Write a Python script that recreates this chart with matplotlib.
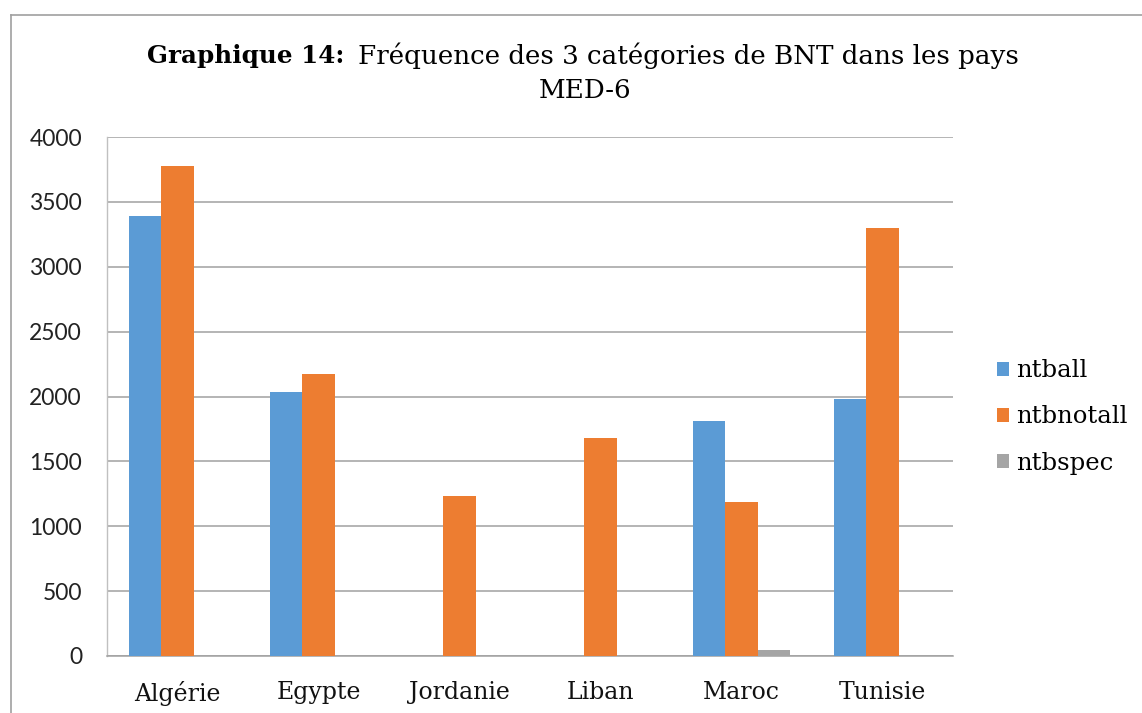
import matplotlib
matplotlib.use("Agg")
import matplotlib.pyplot as plt
import numpy as np

countries = ["Algérie", "Egypte", "Jordanie", "Liban", "Maroc", "Tunisie"]
series_names = ["ntball", "ntbnotall", "ntbspec"]
ntball = [3390, 2035, 0, 0, 1810, 1980]
ntbnotall = [3780, 2175, 1230, 1680, 1190, 3295]
ntbspec = [0, 0, 0, 0, 50, 0]
yticks = [0, 500, 1000, 1500, 2000, 2500, 3000, 3500, 4000]
colors = ["#5B9BD5", "#ED7D31", "#A5A5A5"]

W, H = 1142, 713
fig = plt.figure(figsize=(W / 100, H / 100), dpi=100)
fig.patch.set_facecolor("white")

# outer chart border (left and top visible)
fig.add_artist(plt.Line2D([10.5 / W, 10.5 / W], [0, 1 - 14.5 / H], color="#A0A0A0", lw=1.2))
fig.add_artist(plt.Line2D([10.5 / W, 1], [1 - 14.5 / H, 1 - 14.5 / H], color="#A0A0A0", lw=1.2))

left, right, top, bottom = 107, 953, 137, 656
ax = fig.add_axes([left / W, 1 - bottom / H, (right - left) / W, (bottom - top) / H])

x = np.arange(len(countries))
bw = 0.227
for i, (vals, name) in enumerate(zip([ntball, ntbnotall, ntbspec], series_names)):
    ax.bar(x + (i - 1) * bw, vals, width=bw, color=colors[i], label=name, zorder=3)

ax.set_xlim(-0.5, len(countries) - 0.5)
ax.set_ylim(0, 4000)
ax.set_yticks(yticks)
ax.set_yticklabels([str(v) for v in yticks], fontname="Lato", fontsize=16.5, color="#222222")
ax.set_xticks(x)
ax.set_xticklabels(countries, fontname="DejaVu Serif", fontsize=17, color="#111111")
ax.tick_params(axis="both", length=0)
ax.tick_params(axis="y", pad=18)
ax.tick_params(axis="x", pad=18)
ax.yaxis.grid(True, color="#A0A0A0", lw=1.1, zorder=0)
for s in ["top", "right"]:
    ax.spines[s].set_visible(False)
ax.spines["left"].set_color("#C0C0C0")
ax.spines["left"].set_linewidth(1.0)
ax.spines["bottom"].set_color("#A0A0A0")
ax.spines["bottom"].set_linewidth(1.1)

# title with bold prefix
r = fig.canvas.get_renderer()
bold_txt = "Graphique 14:"
reg_txt = "Fréquence des 3 catégories de BNT dans les pays"
tb = fig.text(0, 0, bold_txt, fontname="DejaVu Serif", fontweight="bold", fontsize=10)
tr = fig.text(0, 0, reg_txt, fontname="DejaVu Serif", fontsize=10)
wb = tb.get_window_extent(r).width
wr = tr.get_window_extent(r).width
fs_b = 10 * 198 / wb
fs_r = 10 * 664 / wr
tb.set_fontsize(fs_b)
tr.set_fontsize(fs_r)
y1 = 1 - 56 / H
tb.set_position((147 / W, y1))
tb.set_va("center")
tr.set_position((358 / W, y1))
tr.set_va("center")
fig.text(585 / W, 1 - 90 / H, "MED-6", fontname="DejaVu Serif", fontsize=fs_r,
         ha="center", va="center")

fig.legend(loc="center left", bbox_to_anchor=(997 / W, 1 - 417 / H), frameon=False,
           prop={"family": "DejaVu Serif", "size": 17.5}, handlelength=0.5, handleheight=0.5,
           handletextpad=0.3, labelspacing=0.95, borderaxespad=0, borderpad=0)

fig.savefig("out.png", dpi=100)
